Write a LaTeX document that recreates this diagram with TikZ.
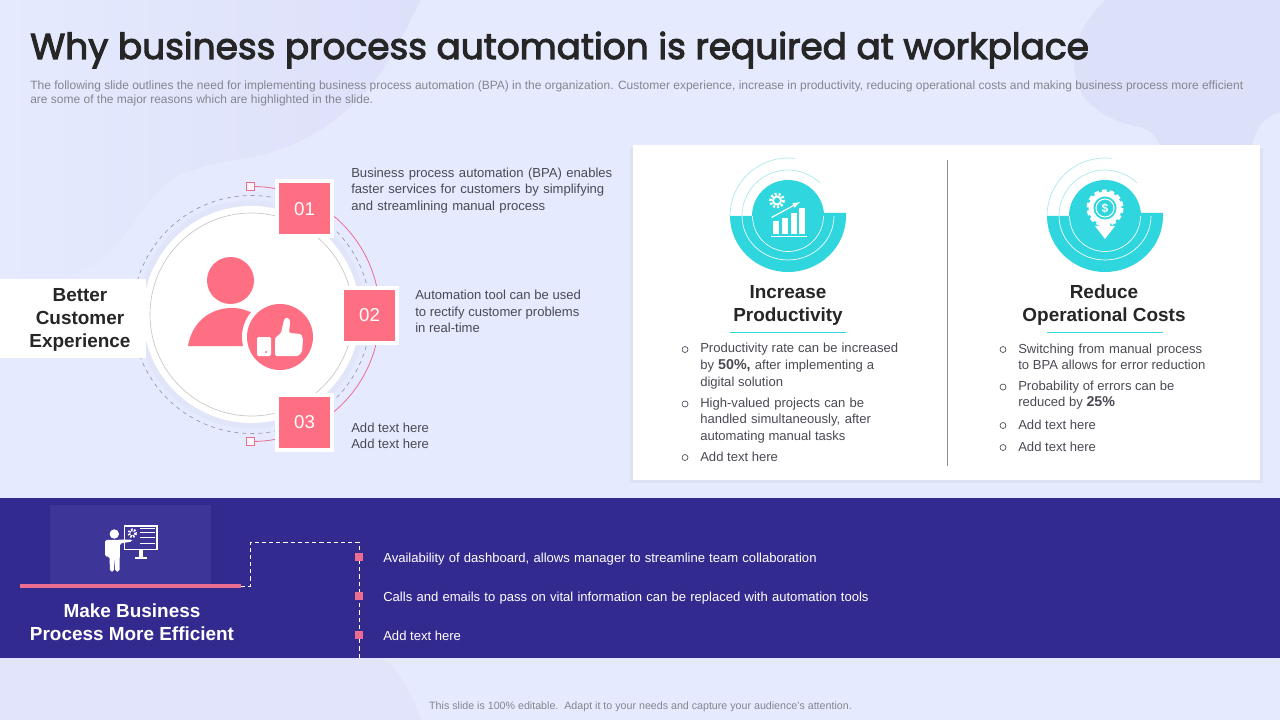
\documentclass[tikz,border=0pt]{standalone}
\usepackage{fontspec}
\setmainfont{Liberation Sans}
\newfontfamily\titlefont{Poppins}[FakeBold=3]
\usetikzlibrary{positioning, calc}
\definecolor{slidebg}{HTML}{E5EAFE}
\definecolor{blob}{HTML}{DDE0F9}
\definecolor{band}{HTML}{332A8F}
\definecolor{bandlight}{HTML}{3D3598}
\definecolor{rose}{HTML}{FF6F83}
\definecolor{roseline}{HTML}{EC6C92}
\definecolor{cyanfill}{HTML}{2FD6DE}
\definecolor{cyanpale}{HTML}{A8E8EC}
\definecolor{inktext}{HTML}{4A4A55}
\definecolor{greytext}{HTML}{85858F}
\newcommand{\bodyfont}{\fontsize{9.8}{12.2}\selectfont}
\newcommand{\headfont}{\fontsize{14.2}{17.2}\selectfont\bfseries}
\newcommand{\boldpct}{\fontsize{10.7}{12}\selectfont\bfseries}
\newcommand{\fitline}[2]{\makebox[#1][s]{#2}}
\tikzset{
	note/.style={
		anchor=west,
		align=left,
		inner sep=0pt,
		text=inktext,
		font=\bodyfont
	},
	numbox/.style={
		draw=white,
		line width=3pt,
		fill=rose,
		text=white,
		minimum size=41.25pt,
		inner sep=0pt,
		font=\fontsize{14}{14}\selectfont
	},
	heading/.style={
		align=center,
		inner sep=0pt,
		text=black!85,
		font=\headfont
	},
	bullet/.style={
		draw=inktext,
		circle,
		line width=0.5pt,
		inner sep=0pt,
		minimum size=4.5pt
	},
	marker/.style={
		fill=roseline,
		inner sep=0pt,
		minimum size=5.5pt
	},
	tag/.style={
		draw=roseline,
		fill=white!70!rose!20,
		line width=0.5pt,
		inner sep=0pt,
		minimum size=6pt
	}
}

\begin{document}
\begin{tikzpicture}[x=0.75pt, y=-0.75pt]
	\useasboundingbox (0,0) rectangle (1280,720);
	% slide background
	\fill[slidebg] (0,0) rectangle (1280,720);
	\shade[left color=slidebg, right color=blob] (0,0) -- (421,0) .. controls (405,30) and (385,75) .. (363,94) .. controls (335,125) and (300,145) .. (261,155) .. controls (225,162) and (195,165) .. (170,180) .. controls (145,200) and (130,235) .. (100,260) .. controls (75,278) and (40,285) .. (0,290) -- cycle;
	\fill[blob] (1105,0) .. controls (1085,20) and (1070,45) .. (1075,75) .. controls (1080,105) and (1110,122) .. (1140,127) .. controls (1150,130) and (1156,136) .. (1160,146) -- (1252,146) .. controls (1255,128) and (1265,116) .. (1280,112) -- (1280,0) -- cycle;
	\fill[blob!55!slidebg] (0,658) -- (382,658) .. controls (400,670) and (412,695) .. (421,720) -- (0,720) -- cycle;

	% title
	\node[anchor=west, inner sep=0pt, text=black!85, font=\titlefont\fontsize{26.9}{28}\selectfont] (title) at (30,50) {Why business process automation is required at workplace};
	\node[anchor=west, align=left, inner sep=0pt, text=greytext, font=\fontsize{9}{10.8}\selectfont] (intro) at (30,93.5) {The following slide outlines the need for implementing business process automation (BPA) in the organization. Customer experience, increase in productivity, reducing operational costs and making business process more efficient\\are some of the major reasons which are highlighted in the slide.};

	% customer circle
	\fill[black!2!slidebg] (251.5,314.5) circle (114);
	\draw[black!35!slidebg, dashed, line width=0.5pt] (251.5,314.5) circle (119);
	\fill[white] (251.5,314.5) circle (108.5);
	\draw[black!22, line width=0.5pt] (251.5,314.5) circle (101.5);

	% pink arc between the small squares
	\node[tag] (tagtop) at (250,186.5) {};
	\node[tag] (tagbottom) at (250,441.5) {};
	\draw[roseline, line width=0.6pt] (tagtop.east) arc (-89:89:127.5);

	% numbered boxes
	\node[numbox] (box1) at (304.5,209) {01};
	\node[numbox] (box2) at (369.5,315.5) {02};
	\node[numbox] (box3) at (304.5,422) {03};

	% person with thumb
	\fill[rose] (230.5,280.5) circle (23.5);
	\fill[rose] (188,346) .. controls (192,322) and (210,308) .. (232,308) .. controls (240,308) and (247,310) .. (254,314) -- (254,346) -- cycle;
	\fill[white] (280,337) circle (38);
	\fill[rose] (280,337) circle (33);
	\fill[white, rounded corners=1pt] (257,337) rectangle (271,356);
	\fill[rose] (266,352) circle (1.2);
	\fill[white, rounded corners=1pt] (275,338) -- (281,333) -- (284,320) .. controls (286,317) and (290,318) .. (290,323) -- (289,333) -- (301,334) -- (303,339) -- (302,352) -- (298,356) -- (275,356) -- cycle;

	% left label
	\fill[white] (0,279) rectangle (146,358);
	\node[heading] (better) at (80,320) {Better\\Customer\\Experience};

	% notes next to the boxes
	\node[note] (note1) at (351,190.5) {\fitline{195.75pt}{Business process automation (BPA) enables}\\\fitline{189.75pt}{faster services for customers by simplifying}\\\fitline{145.5pt}{and streamlining manual process}};
	\node[note] (note2) at (415,311.5) {Automation tool can be used\\to rectify customer problems\\in real-time};
	\node[note] (note3) at (351,435.5) {Add text here\\Add text here};

	% white panel
	\fill[black!4!slidebg] (630,148) rectangle (1263,483);
	\fill[white] (633,145) rectangle (1260,480);
	\draw[black!45, line width=0.5pt] (947,160) -- (947,466);

	% round icons
	\foreach \cx/\name in {788/prod, 1105/cost} {
		\fill[cyanfill] (\cx-58,216) arc [start angle=180, end angle=0, x radius=58, y radius=56] -- ++(0,-3) -- ++(-58,0) -- ++(0,3) -- cycle;
		\draw[cyanpale, line width=0.5pt] (\cx-58,216) arc (180:277:58);
		\draw[cyanpale, line width=0.5pt] (\cx-46,216) arc (180:314:46);
		\draw[white, line width=0.5pt] (\cx-46,216) arc [start angle=180, end angle=0, x radius=46, y radius=44];
		\fill[cyanfill] (\cx,216) circle (36);
		\draw[white, line width=0.5pt] (\cx-35.5,216) arc (180:0:35.5);
	}

	% chart icon
	\draw[white, line width=2pt, dash pattern=on 1.6pt off 1.4pt] (777,200.5) circle (6.5);
	\draw[white, line width=1.4pt] (777,200.5) circle (4);
	\foreach \bx/\btop in {773/221, 781.7/217.7, 790.7/213.3, 799/208.3} {
		\fill[white] (\bx,\btop) rectangle (\bx+6.2,234.3);
	}
	\fill[white] (771,236) rectangle (807,237.2);
	\coordinate (charta) at (771.5,217.5);
	\coordinate (chartb) at (800,202);
	\draw[white, line width=0.9pt, ->, >=latex] (charta) -- (chartb);

	% coin icon
	\draw[white, line width=3pt, dash pattern=on 3.4pt off 2.2pt] (1105,208) circle (16.5);
	\fill[white] (1105,208) circle (16.5);
	\fill[cyanfill] (1105,208) circle (11.5);
	\draw[white, line width=0.8pt] (1105,208) circle (9);
	\node[text=white, inner sep=0pt, font=\fontsize{9}{9}\selectfont\bfseries] (dollar) at (1105,208) {\$};
	\fill[white] (1100,222) -- (1110,222) -- (1110,226) -- (1115,226) -- (1105,239) -- (1095,226) -- (1100,226) -- cycle;

	% panel headings
	\node[heading] (prod) at (788,305.5) {Increase\\Productivity};
	\node[heading] (cost) at (1104,305.5) {Reduce\\Operational Costs};
	\draw[cyanfill, line width=0.5pt] (730,332) -- (846,332);
	\draw[cyanfill, line width=0.5pt] (1047,332) -- (1163,332);

	% left list
	\node[note] (prod1) at (700,366.5) {\fitline{148.5pt}{Productivity rate can be increased}\\[0.5pt]\fitline{130.5pt}{by {\boldpct 50\%,} after implementing a}\\[0.5pt]digital solution};
	\node[note] (prod2) at (700,420.5) {\fitline{123pt}{High-valued projects can be}\\\fitline{128pt}{handled simultaneously, after}\\automating manual tasks};
	\node[note] (prod3) at (700,457) {Add text here};
	\foreach \by [count=\i] in {349.5, 404, 457.5} {
		\node[bullet] (prodb\i) at (685,\by) {};
	}

	% right list
	\node[note] (cost1) at (1018,357) {\fitline{138pt}{Switching from manual process}\\to BPA allows for error reduction};
	\node[note] (cost2) at (1018,395) {Probability of errors can be\\reduced by {\boldpct 25\%}};
	\node[note] (cost3) at (1018,425) {Add text here};
	\node[note] (cost4) at (1018,447) {Add text here};
	\foreach \by [count=\i] in {349.5, 387, 425.5, 447.5} {
		\node[bullet] (costb\i) at (1003,\by) {};
	}

	% bottom band
	\fill[band] (0,498) rectangle (1280,658);
	\fill[bandlight] (50,505) rectangle (211,585);
	\node[heading, text=white] (efficient) at (132,622) {Make Business\\Process More Efficient};

	% presentation icon
	\fill[white] (114.3,534) circle (4.7);
	\fill[white, rounded corners=1.2pt] (105,540) -- (132,539.5) -- (132,541.5) -- (120,543.5) -- (119.5,571.5) -- (115.3,571.5) -- (114.7,556) -- (114,571.5) -- (110,571.5) -- (109.5,556.5) -- (105,556.5) -- cycle;
	\draw[white, line width=0.9pt] (124.5,526) rectangle (157,549.5);
	\fill[white] (139,550) rectangle (142.7,557.3);
	\fill[white] (135,557.3) rectangle (146.7,559);
	\draw[white, line width=2pt, dash pattern=on 1.2pt off 1pt] (132.3,533.3) circle (3.5);
	\foreach \ly in {528.5, 532.7, 537.7, 543.3} {
		\fill[white] (140,\ly-0.7) rectangle (155,\ly+0.7);
	}

	% dashed connector
	\coordinate (pinkend) at (241,586);
	\coordinate (stepa) at (250,586);
	\coordinate (stepb) at (250,542);
	\coordinate (stepc) at (359,542);
	\coordinate (stepd) at (359,658);
	\draw[white, line width=0.7pt, dash pattern=on 3.2pt off 2.2pt] (pinkend) -- (stepa) -- (stepb) -- (stepc) -- (stepd);
	\draw[roseline, line width=2.4pt] (20,586) -- (pinkend);

	% bottom list
	\foreach \ly/\ty/\lname/\ltext in {557/559/line1/{\fitline{325pt}{Availability of dashboard, allows manager to streamline team collaboration}},
		596/598/line2/{\fitline{364pt}{Calls and emails to pass on vital information can be replaced with automation tools}},
		635/635.5/line3/{Add text here}} {
		\node[marker] (m\lname) at (359,\ly) {};
		\node[note, text=white] (\lname) at (383,\ty) {\ltext};
	}

	% footer
	\node[inner sep=0pt, text=greytext, font=\fontsize{8}{9}\selectfont] (footer) at (640.5,706.5) {This slide is 100\% editable.\ \ Adapt it to your needs and capture your audience's attention.};
\end{tikzpicture}
\end{document}
